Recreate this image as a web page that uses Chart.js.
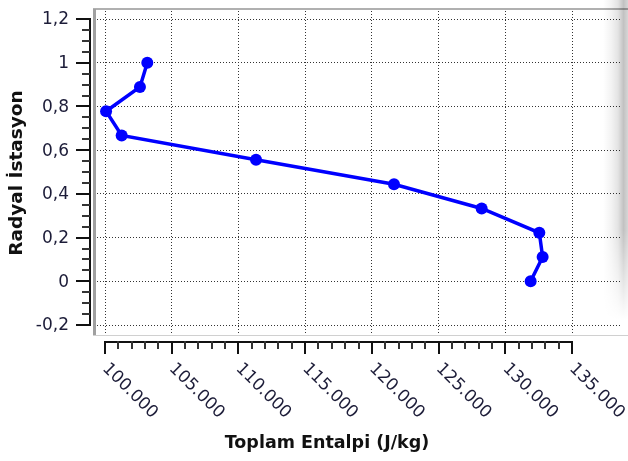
<!DOCTYPE html>
<html>
<head>
<meta charset="utf-8">
<script src="https://cdn.jsdelivr.net/npm/chart.js@4.4.0/dist/chart.umd.min.js"></script>
<style>
  html, body { margin: 0; padding: 0; background: #fff; }
  #wrap { width: 628px; height: 461px; }
</style>
</head>
<body>
<div id="wrap"><canvas id="chart" width="628" height="461"></canvas></div>
<script>
// Radyal istasyon boyunca toplam entalpi
const stations = [0, 0.111, 0.222, 0.333, 0.444, 0.556, 0.667, 0.778, 0.889, 1.0];
const enthalpy = [131900, 132800, 132550, 128230, 121660, 111320, 101250, 100080, 102620, 103170];

const yTicks = [-0.2, 0, 0.2, 0.4, 0.6, 0.8, 1.0, 1.2];
const yLabels = ['-0,2', '0', '0,2', '0,4', '0,6', '0,8', '1', '1,2'];
const xTicks = [100000, 105000, 110000, 115000, 120000, 125000, 130000, 135000];
const xLabels = ['100.000', '105.000', '110.000', '115.000', '120.000', '125.000', '130.000', '135.000'];

const xTitle = 'Toplam Entalpi (J/kg)';
const yTitle = 'Radyal İstasyon';

const TICK_FONT = '17px "DejaVu Sans"';
const TEXT_COLOR = '#1c1c38';

// where the first/last tick of each axis should sit inside the canvas
const X_FIRST_PX = 105, X_LAST_PX = 572;
const Y_TOP_PX = 19, Y_BOTTOM_PX = 325;

// white page, panel frame, separate axes and the shaded right edge
const panelPlugin = {
    id: 'panel',
    beforeDraw: function(chart) {
        const ctx = chart.ctx;
        ctx.save();
        ctx.fillStyle = '#ffffff';
        ctx.fillRect(0, 0, chart.width, chart.height);
        ctx.restore();
    },
    afterDraw: function(chart) {
        const ctx = chart.ctx;
        const xs = chart.scales.x;
        const ys = chart.scales.y;
        const area = chart.chartArea;
        ctx.save();

        // frame round the plot
        ctx.fillStyle = '#b0b0b0';
        ctx.fillRect(area.left - 4, area.top - 3, chart.width - area.left + 4, 2);
        ctx.fillStyle = '#a0a0a0';
        ctx.fillRect(area.left - 4, area.top - 2, 3, area.bottom - area.top + 3);
        ctx.fillStyle = '#d0d0d0';
        ctx.fillRect(area.left - 4, area.bottom, chart.width - area.left + 4, 1);

        // shaded right edge, fading out towards the bottom
        const grad = ctx.createLinearGradient(603, 0, chart.width, 0);
        grad.addColorStop(0, 'rgba(0,0,0,0)');
        grad.addColorStop(0.35, 'rgba(0,0,0,0.05)');
        grad.addColorStop(0.6, 'rgba(0,0,0,0.11)');
        grad.addColorStop(0.82, 'rgba(0,0,0,0.24)');
        grad.addColorStop(1, 'rgba(0,0,0,0.16)');
        ctx.fillStyle = grad;
        for (let y = 0; y < 330; y++) {
            const a = y < 230 ? 1 : Math.max(0, 1 - (y - 230) / 90);
            if (a <= 0) break;
            ctx.globalAlpha = a;
            ctx.fillRect(603, y, chart.width - 603, 1);
        }
        ctx.globalAlpha = 1;

        // y axis: line, major and minor ticks, labels
        const yAxisX = 90;
        const yTop = ys.getPixelForValue(yTicks[yTicks.length - 1]);
        const yBot = ys.getPixelForValue(yTicks[0]);
        ctx.fillStyle = '#111';
        ctx.fillRect(yAxisX - 1, yTop - 1, 2, yBot - yTop + 2);
        yTicks.forEach((v, i) => {
            const py = Math.round(ys.getPixelForValue(v));
            ctx.fillStyle = '#111';
            ctx.fillRect(yAxisX - 14, py - 1, 14, 2);
            if (i < yTicks.length - 1) {
                const step = (yTicks[i + 1] - v) / 4;
                for (let k = 1; k < 4; k++) {
                    const my = Math.round(ys.getPixelForValue(v + step * k));
                    ctx.fillStyle = '#333';
                    ctx.fillRect(yAxisX - 8, my - 1, 8, 2);
                }
            }
        });
        ctx.font = TICK_FONT;
        ctx.fillStyle = TEXT_COLOR;
        ctx.textAlign = 'right';
        ctx.textBaseline = 'middle';
        yTicks.forEach((v, i) => {
            ctx.fillText(yLabels[i], 69, ys.getPixelForValue(v) + 1);
        });

        // x axis below the plot
        const xAxisY = 341;
        const xLeft = xs.getPixelForValue(xTicks[0]);
        const xRight = xs.getPixelForValue(xTicks[xTicks.length - 1]);
        ctx.fillStyle = '#111';
        ctx.fillRect(xLeft - 1, xAxisY, xRight - xLeft + 2, 2);
        xTicks.forEach((v, i) => {
            const px = Math.round(xs.getPixelForValue(v));
            ctx.fillStyle = '#111';
            ctx.fillRect(px - 1, xAxisY, 2, 13);
            if (i < xTicks.length - 1) {
                const step = (xTicks[i + 1] - v) / 5;
                for (let k = 1; k < 5; k++) {
                    const mx = Math.round(xs.getPixelForValue(v + step * k));
                    ctx.fillStyle = '#333';
                    ctx.fillRect(mx - 1, xAxisY, 2, 8);
                }
            }
        });
        ctx.font = TICK_FONT;
        ctx.fillStyle = TEXT_COLOR;
        ctx.textAlign = 'left';
        ctx.textBaseline = 'middle';
        xTicks.forEach((v, i) => {
            ctx.save();
            ctx.translate(xs.getPixelForValue(v), 366);
            ctx.rotate(Math.PI / 4);
            ctx.fillText(xLabels[i], 0, 0);
            ctx.restore();
        });

        // axis titles
        ctx.fillStyle = '#111';
        ctx.textAlign = 'center';
        ctx.textBaseline = 'middle';
        ctx.font = 'bold 17.5px "DejaVu Sans"';
        ctx.fillText(xTitle, 327, 443);
        ctx.save();
        ctx.translate(17, 173);
        ctx.rotate(-Math.PI / 2);
        ctx.font = 'bold 18.5px "DejaVu Sans"';
        ctx.fillText(yTitle, 0, 0);
        ctx.restore();

        ctx.restore();
    }
};

const ctx = document.getElementById('chart').getContext('2d');

const chart = new Chart(ctx, {
    type: 'scatter',
    data: {
        datasets: [{
            data: stations.map((s, i) => ({ x: enthalpy[i], y: s })),
            showLine: true,
            borderColor: '#0000ff',
            backgroundColor: '#0000ff',
            borderWidth: 3.5,
            pointRadius: 6,
            pointBorderWidth: 0,
            tension: 0
        }]
    },
    options: {
        responsive: false,
        animation: false,
        devicePixelRatio: 1,
        layout: {
            padding: { left: 97, top: 11, right: 0, bottom: 126 }
        },
        plugins: {
            legend: { display: false },
            tooltip: { enabled: false }
        },
        scales: {
            x: {
                type: 'linear',
                min: 99400,
                max: 139197,
                afterBuildTicks: function(scale) {
                    scale.ticks = xTicks.map(v => ({ value: v }));
                },
                ticks: { display: false },
                grid: { color: '#333', lineWidth: 1, drawTicks: false },
                border: { display: false, dash: [1, 2] }
            },
            y: {
                type: 'linear',
                min: -0.2458,
                max: 1.2366,
                afterBuildTicks: function(scale) {
                    scale.ticks = yTicks.map(v => ({ value: v }));
                },
                ticks: { display: false },
                grid: { color: '#333', lineWidth: 1, drawTicks: false },
                border: { display: false, dash: [1, 2] }
            }
        }
    },
    plugins: [panelPlugin]
});

// fit the axis ranges to the real plot area so the ticks land where wanted
(function fitRanges() {
    const area = chart.chartArea;
    const kx = (xTicks[xTicks.length - 1] - xTicks[0]) / (X_LAST_PX - X_FIRST_PX);
    const xMin = xTicks[0] - (X_FIRST_PX - area.left) * kx;
    chart.options.scales.x.min = xMin;
    chart.options.scales.x.max = xMin + (area.right - area.left) * kx;
    const ky = (yTicks[yTicks.length - 1] - yTicks[0]) / (Y_BOTTOM_PX - Y_TOP_PX);
    const yMax = yTicks[yTicks.length - 1] + (Y_TOP_PX - area.top) * ky;
    chart.options.scales.y.max = yMax;
    chart.options.scales.y.min = yMax - (area.bottom - area.top) * ky;
    chart.update();
})();
</script>
</body>
</html>
